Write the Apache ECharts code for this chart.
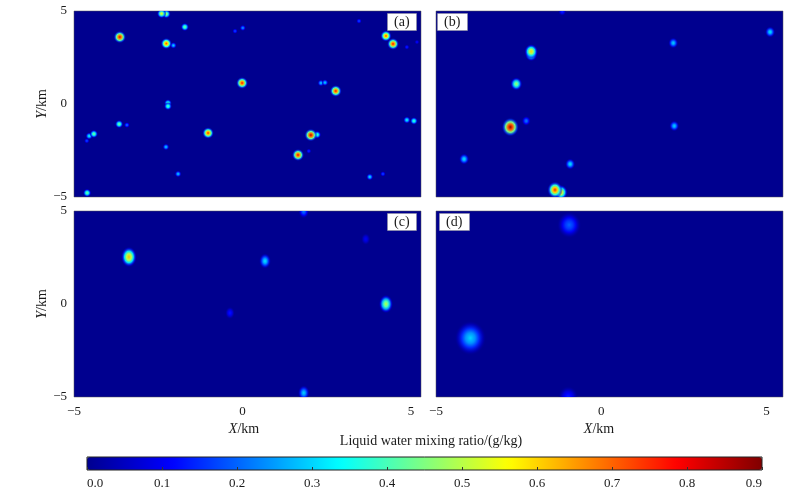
<!DOCTYPE html>
<html>
<head>
<meta charset="utf-8">
<title>Liquid water mixing ratio</title>
<script src="https://cdn.jsdelivr.net/npm/echarts@6/dist/echarts.min.js"></script>
<style>
  html, body { margin: 0; padding: 0; background: #fff; }
  #main { width: 804px; height: 496px; }
</style>
</head>
<body>
<div id="main"></div>
<script>
// 云团 [x/km, y/km, 液水混合比峰值 g/kg]
const cloudsA = [
  [-2.40, 4.86, 0.55], [-2.26, 4.84, 0.50],
  [-1.71, 4.14, 0.45],
  [-3.64, 3.60, 0.82],
  [-2.26, 3.25, 0.72], [-2.05, 3.15, 0.30],
  [-0.22, 3.92, 0.18],
  [0.01, 4.09, 0.25],
  [3.46, 4.46, 0.18],
  [4.26, 3.66, 0.72],
  [4.47, 3.23, 0.78],
  [4.88, 3.06, 0.15],
  [5.18, 3.33, 0.12],
  [-0.01, 1.13, 0.78],
  [2.33, 1.13, 0.30], [2.45, 1.15, 0.30],
  [2.77, 0.70, 0.78],
  [-2.21, 0.05, 0.40], [-2.21, -0.12, 0.42],
  [-3.66, -1.08, 0.45],
  [-3.43, -1.13, 0.22],
  [-4.41, -1.61, 0.45], [-4.55, -1.72, 0.35], [-4.62, -1.98, 0.18],
  [-1.02, -1.56, 0.75],
  [2.03, -1.67, 0.85], [2.22, -1.65, 0.40],
  [-2.27, -2.31, 0.30],
  [1.65, -2.74, 0.80],
  [1.97, -2.53, 0.15],
  [4.88, -0.86, 0.35],
  [5.09, -0.91, 0.40],
  [-1.91, -3.76, 0.30],
  [3.78, -3.92, 0.32],
  [4.17, -3.76, 0.18],
  [-4.61, -4.78, 0.45]
]
const cloudsB = [
  [-2.12, 2.82, 0.60], [-2.12, 2.66, 0.50],
  [-2.57, 1.08, 0.48],
  [-2.75, -1.24, 0.88],
  [-2.27, -0.91, 0.22],
  [-4.15, -2.96, 0.32],
  [-0.94, -3.23, 0.32],
  [-1.40, -4.62, 0.75], [-1.22, -4.75, 0.60],
  [2.18, 3.28, 0.30],
  [2.21, -1.18, 0.30],
  [5.11, 3.87, 0.32],
  [-1.18, 4.98, 0.15]
]
const cloudsC = [
  [-3.37, 2.53, 0.62],
  [0.67, 2.31, 0.32],
  [4.26, 0.00, 0.50],
  [-0.37, -0.48, 0.13],
  [1.82, -4.78, 0.30],
  [1.82, 4.98, 0.22],
  [3.66, 3.49, 0.10]
]
const cloudsD = [
  [-0.97, 4.25, 0.20],
  [-3.96, -1.83, 0.30],
  [-1.00, -5.00, 0.14]
]
const panelLabels = ['(a)', '(b)', '(c)', '(d)']
const axisTicks = [-5, 0, 5]
const colorbarTicks = [0.0, 0.1, 0.2, 0.3, 0.4, 0.5, 0.6, 0.7, 0.8, 0.9]

// jet 色标
const jetStops = ['#00008f', '#0000ff', '#0080ff', '#00ffff', '#80ff80',
  '#ffff00', '#ff8000', '#ff0000', '#800000']
const vMin = colorbarTicks[0]
const vMax = colorbarTicks[colorbarTicks.length - 1]

function hexToRgb(h) {
  return [parseInt(h.slice(1, 3), 16), parseInt(h.slice(3, 5), 16), parseInt(h.slice(5, 7), 16)]
}
const jetRgb = jetStops.map(hexToRgb)

function jet(v, alpha) {
  let t = (v - vMin) / (vMax - vMin)
  t = Math.max(0, Math.min(1, t)) * (jetRgb.length - 1)
  const i = Math.min(Math.floor(t), jetRgb.length - 2)
  const f = t - i
  const c = jetRgb[i].map((a, k) => Math.round(a + (jetRgb[i + 1][k] - a) * f))
  return 'rgba(' + c.join(',') + ',' + (alpha == null ? 1 : alpha) + ')'
}

function cloudFill(v) {
  return new echarts.graphic.RadialGradient(0.5, 0.5, 0.5, [
    { offset: 0, color: jet(v) },
    { offset: 0.3, color: jet(v * 0.8) },
    { offset: 0.55, color: jet(v * 0.5) },
    { offset: 0.8, color: jet(v * 0.2, 0.6) },
    { offset: 1, color: jet(0, 0) }
  ])
}

// 每个面板的云团绘制方式，峰值高的画在上层
function cloudRenderer(r0, rk, aspect) {
  return function (params, api) {
    const v = api.value(2)
    const p = api.coord([api.value(0), api.value(1)])
    return {
      type: 'circle',
      x: p[0],
      y: p[1],
      scaleY: aspect,
      z2: Math.round(v * 100),
      shape: { cx: 0, cy: 0, r: r0 + rk * v },
      style: { fill: cloudFill(v) }
    }
  }
}

const FONT = '"Liberation Serif", "Times New Roman", serif'
const textColor = '#1a1a1a'

function tickLabel(v) {
  if (!axisTicks.some(t => Math.abs(t - v) < 1e-6)) return ''
  return v < 0 ? '\u2212' + Math.abs(v) : String(v)
}

const panelGrids = [
  { left: 74, top: 11, width: 347, height: 186 },
  { left: 436, top: 11, width: 347, height: 186 },
  { left: 74, top: 211, width: 347, height: 186 },
  { left: 436, top: 211, width: 347, height: 186 }
]
const xMaxs = [5.3, 5.5, 5.3, 5.5]
const nameShift = [7, 21, 7, 21]
const renderers = [
  cloudRenderer(1.8, 5.5, 1.0),
  cloudRenderer(3.2, 6.2, 1.1),
  cloudRenderer(4.0, 6.5, 1.3),
  cloudRenderer(5.0, 36, 1.1)
]
const cloudSets = [cloudsA, cloudsB, cloudsC, cloudsD]

const grids = panelGrids.map(g => Object.assign({
  show: true,
  backgroundColor: jet(0),
  borderColor: '#555',
  borderWidth: 0.5
}, g))
grids.push({
  left: 87, top: 457, width: 675, height: 13,
  show: true, backgroundColor: 'transparent',
  borderColor: '#222', borderWidth: 1, z: 10
})

const xAxes = panelGrids.map((g, i) => ({
  type: 'value',
  gridIndex: i,
  min: axisTicks[0],
  max: xMaxs[i],
  interval: 5,
  name: i >= 2 ? '{i|X}/km' : '',
  nameLocation: 'middle',
  nameGap: 25,
  nameTextStyle: {
    fontFamily: FONT, fontSize: 14, color: textColor,
    padding: [0, nameShift[i], 0, 0],
    rich: { i: { fontStyle: 'italic', fontFamily: FONT, fontSize: 14, color: textColor } }
  },
  axisLine: { show: false },
  axisTick: { show: false },
  splitLine: { show: false },
  axisLabel: {
    show: i >= 2,
    margin: 8,
    fontFamily: FONT, fontSize: 13, color: textColor,
    formatter: tickLabel
  }
}))
xAxes.push({
  type: 'value',
  gridIndex: 4,
  min: vMin,
  max: vMax,
  interval: 0.1,
  z: 10,
  axisLine: { show: false },
  axisTick: { show: true, inside: true, length: 3, lineStyle: { color: '#333', width: 1 } },
  splitLine: { show: false },
  axisLabel: {
    margin: 7,
    alignMinLabel: 'left',
    alignMaxLabel: 'right',
    fontFamily: FONT, fontSize: 13, color: textColor,
    formatter: v => v.toFixed(1)
  }
})

const yAxes = panelGrids.map((g, i) => ({
  type: 'value',
  gridIndex: i,
  min: axisTicks[0],
  max: axisTicks[2],
  interval: 5,
  name: i % 2 === 0 ? '{i|Y}/km' : '',
  nameLocation: 'middle',
  nameGap: 22,
  nameTextStyle: {
    fontFamily: FONT, fontSize: 14, color: textColor,
    rich: { i: { fontStyle: 'italic', fontFamily: FONT, fontSize: 14, color: textColor } }
  },
  axisLine: { show: false },
  axisTick: { show: false },
  splitLine: { show: false },
  axisLabel: {
    show: i % 2 === 0,
    margin: 7,
    fontFamily: FONT, fontSize: 13, color: textColor,
    formatter: tickLabel
  }
}))
yAxes.push({ type: 'value', gridIndex: 4, min: 0, max: 1, show: false })

const series = cloudSets.map((data, i) => ({
  type: 'custom',
  name: panelLabels[i],
  xAxisIndex: i,
  yAxisIndex: i,
  clip: true,
  silent: true,
  renderItem: renderers[i],
  data: data
}))

const labelPos = [
  { left: 387, top: 13 },
  { left: 437, top: 13 },
  { left: 387, top: 213 },
  { left: 439, top: 213 }
]
const titles = panelLabels.map((t, i) => Object.assign({
  text: t,
  padding: [2, 7, 2, 7],
  backgroundColor: '#fff',
  borderColor: '#999',
  borderWidth: 0.5,
  textStyle: { fontFamily: FONT, fontSize: 14, fontWeight: 'normal', color: textColor }
}, labelPos[i]))

const option = {
  animation: false,
  backgroundColor: '#fff',
  title: titles,
  grid: grids,
  xAxis: xAxes,
  yAxis: yAxes,
  visualMap: {
    type: 'continuous',
    min: vMin,
    max: vMax,
    seriesIndex: [0, 1, 2, 3],
    dimension: 2,
    orient: 'horizontal',
    left: 87,
    top: 457,
    itemWidth: 13,
    itemHeight: 675,
    padding: 0,
    text: null,
    calculable: false,
    hoverLink: false,
    inRange: { color: jetStops }
  },
  graphic: [{
    type: 'text',
    x: 431,
    y: 441,
    style: {
      text: 'Liquid water mixing ratio/(g/kg)',
      font: '14px ' + FONT,
      fill: textColor,
      textAlign: 'center',
      textVerticalAlign: 'middle'
    }
  }],
  series: series
}

const chart = echarts.init(document.getElementById('main'))
chart.setOption(option)
window.addEventListener('resize', () => chart.resize())
</script>
</body>
</html>
